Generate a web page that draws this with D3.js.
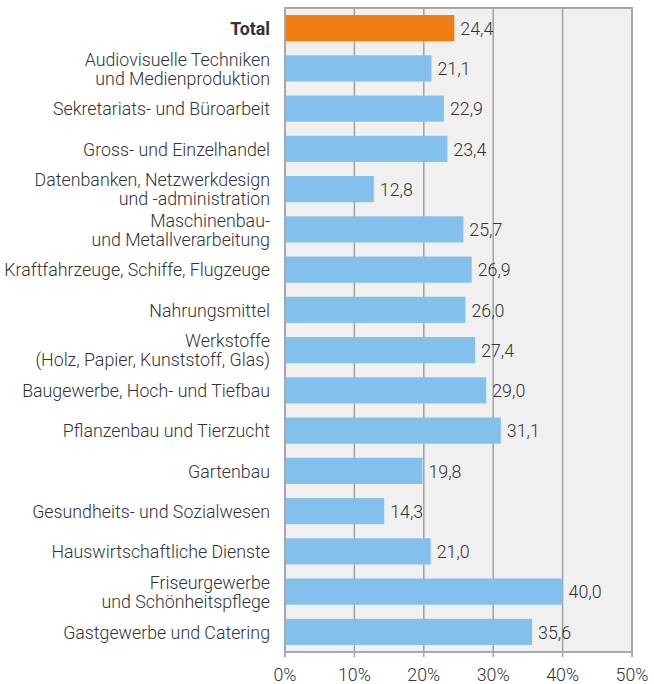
<!DOCTYPE html>
<html><head><meta charset="utf-8">
<script src="https://cdn.jsdelivr.net/npm/d3@7"></script>
<style>body{margin:0;background:#fff}svg{display:block}text{font-family:Roboto,sans-serif}</style>
</head><body>
<script>
const categories = [
 ["Total"],
 ["Audiovisuelle Techniken","und Medienproduktion"],
 ["Sekretariats- und Büroarbeit"],
 ["Gross- und Einzelhandel"],
 ["Datenbanken, Netzwerkdesign","und -administration"],
 ["Maschinenbau-","und Metallverarbeitung"],
 ["Kraftfahrzeuge, Schiffe, Flugzeuge"],
 ["Nahrungsmittel"],
 ["Werkstoffe","(Holz, Papier, Kunststoff, Glas)"],
 ["Baugewerbe, Hoch- und Tiefbau"],
 ["Pflanzenbau und Tierzucht"],
 ["Gartenbau"],
 ["Gesundheits- und Sozialwesen"],
 ["Hauswirtschaftliche Dienste"],
 ["Friseurgewerbe","und Schönheitspflege"],
 ["Gastgewerbe und Catering"]
];
const values = [24.4,21.1,22.9,23.4,12.8,25.7,26.9,26.0,27.4,29.0,31.1,19.8,14.3,21.0,40.0,35.6];
const ticks = [0,10,20,30,40,50];

const W=654,H=684;
const svg=d3.select("body").append("svg").attr("width",W).attr("height",H);
const x=d3.scaleLinear().domain([0,50]).range([285,632]);
const y=d3.scaleBand().domain(d3.range(values.length)).range([8,652]).paddingInner(0.35).paddingOuter(0.175);

svg.append("rect").attr("x",x(0)).attr("y",8).attr("width",x(50)-x(0)).attr("height",644).attr("fill","#f0f0f0");
svg.selectAll("line.grid").data(ticks.slice(1,-1)).join("line").attr("class","grid")
 .attr("x1",d=>x(d)).attr("x2",d=>x(d)).attr("y1",8).attr("y2",657).attr("stroke","#a0a0a0").attr("stroke-width",1.5);

svg.selectAll("rect.bar").data(values).join("rect").attr("class","bar")
 .attr("x",x(0)).attr("y",(d,i)=>y(i)).attr("width",d=>x(d)-x(0)).attr("height",y.bandwidth())
 .attr("fill",(d,i)=>i===0?"#f07d12":"#84c0ec");

svg.append("rect").attr("x",x(0)).attr("y",8).attr("width",x(50)-x(0)).attr("height",644)
 .attr("fill","none").attr("stroke","#a8a8a8").attr("stroke-width",2);
svg.selectAll("line.tk").data([0,50]).join("line").attr("class","tk")
 .attr("x1",d=>x(d)).attr("x2",d=>x(d)).attr("y1",652).attr("y2",657).attr("stroke","#a8a8a8").attr("stroke-width",2);

const FS=17.8;
const fmt=d=>d.toFixed(1).replace(".",",");
svg.selectAll("text.val").data(values).join("text").attr("class","val")
 .attr("x",d=>x(d)+6).attr("y",(d,i)=>y(i)+y.bandwidth()/2+0.5).attr("dy","0.35em")
 .attr("font-size",FS).attr("font-weight",300).attr("fill","#333").text(fmt);

const lab=svg.selectAll("text.lab").data(categories).join("text").attr("class","lab")
 .attr("text-anchor","end").attr("font-size",FS).attr("fill","#333")
 .attr("font-weight",(d,i)=>i===0?700:300);
lab.each(function(d,i){
  const t=d3.select(this); const cy=y(i)+y.bandwidth()/2+0.5; const lh=19;
  d.forEach((s,j)=>{
    t.append("tspan").attr("x",270).attr("y",cy+(j-(d.length-1)/2)*lh).attr("dy","0.35em").text(s);
  });
});

svg.selectAll("text.tick").data(ticks).join("text").attr("class","tick")
 .attr("x",d=>x(d)).attr("y",675).attr("dy","0.35em").attr("text-anchor","middle")
 .attr("font-size",FS).attr("font-weight",300).attr("fill","#333").text(d=>d+"%");
</script>
</body></html>
